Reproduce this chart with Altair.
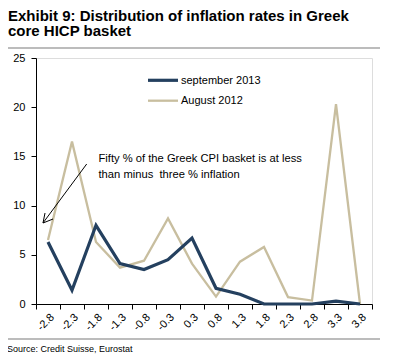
import altair as alt
import pandas as pd

categories = ["-2.8", "-2.3", "-1.8", "-1.3", "-0.8", "-0.3", "0.3", "0.8",
              "1.3", "1.8", "2.3", "2.8", "3.3", "3.8"]
sep_2013 = [6.3, 1.4, 8.0, 4.1, 3.5, 4.5, 6.7, 1.6, 1.0, 0.0, 0.0, 0.0, 0.3, 0.0]
aug_2012 = [6.5, 16.5, 6.3, 3.7, 4.4, 8.7, 4.1, 0.75, 4.3, 5.8, 0.7, 0.35, 20.3, 0.0]
series_names = ["september 2013", "August 2012"]
series_colors = ["#24405F", "#C8BE9F"]
y_ticks = [0, 5, 10, 15, 20, 25]

title_lines = ["Exhibit 9: Distribution of inflation rates in Greek", "core HICP basket"]
note_lines = ["Fifty % of the Greek CPI basket is at less", "than minus\u00a0 three % inflation"]
source_text = "Source: Credit Suisse, Eurostat"

FONT = "Liberation Sans"
W, H = 336, 246

rows = []
for c, a, b in zip(categories, sep_2013, aug_2012):
    rows.append({"cat": c, "series": series_names[0], "value": a})
    rows.append({"cat": c, "series": series_names[1], "value": b})
df = pd.DataFrame(rows)

x_enc = alt.X("cat:N", sort=categories,
              scale=alt.Scale(type="band", paddingInner=0, paddingOuter=0),
              axis=alt.Axis(title=None, labelAngle=-45, tickBand="extent",
                            labelFont=FONT, labelFontSize=11, labelColor="black",
                            domainColor="black", tickColor="black", tickSize=5,
                            labelPadding=2, grid=False))
y_enc = alt.Y("value:Q", scale=alt.Scale(domain=[0, 25], nice=False),
              axis=alt.Axis(title=None, values=y_ticks, labelFont=FONT,
                            labelFontSize=11, labelColor="black",
                            domainColor="black", tickColor="black", tickSize=5,
                            labelPadding=6, grid=False))
color_scale = alt.Scale(domain=series_names, range=series_colors)

aug_line = alt.Chart(df).transform_filter(
    alt.datum.series == series_names[1]
).mark_line(strokeWidth=2.3).encode(
    x=x_enc, y=y_enc, color=alt.Color("series:N", scale=color_scale, legend=None))
sep_line = alt.Chart(df).transform_filter(
    alt.datum.series == series_names[0]
).mark_line(strokeWidth=3.2).encode(
    x=x_enc, y=y_enc, color=alt.Color("series:N", scale=color_scale, legend=None))

one = pd.DataFrame({"a": [0]})

def txt(s, x, y, size=11, bold=False, baseline="alphabetic"):
    return alt.Chart(one).mark_text(
        text=s, font=FONT, fontSize=size, fontWeight="bold" if bold else "normal",
        align="left", baseline=baseline, color="black"
    ).encode(x=alt.value(x), y=alt.value(y))

def seg(x1, y1, x2, y2, color="black", width=1.0):
    return alt.Chart(one).mark_rule(color=color, strokeWidth=width).encode(
        x=alt.value(x1), y=alt.value(y1), x2=alt.value(x2), y2=alt.value(y2))

layers = [aug_line, sep_line]
# title
layers.append(txt(title_lines[0], -28, -37.5, size=15, bold=True))
layers.append(txt(title_lines[1], -28, -22, size=15, bold=True))
layers.append(seg(-28, -10, 344, -10, color="#A6A6A6", width=1.5))
# legend
layers.append(seg(112, 22.3, 142, 22.3, color=series_colors[0], width=3.2))
layers.append(seg(112, 42.7, 142, 42.7, color=series_colors[1], width=2.3))
layers.append(txt(series_names[0], 145, 22.5, baseline="middle"))
layers.append(txt(series_names[1], 145, 43, baseline="middle"))
# annotation
layers.append(txt(note_lines[0], 62.5, 104, size=11.2))
layers.append(txt(note_lines[1], 62.5, 119.5, size=11.2))
layers.append(seg(50.7, 106, 7, 165, width=1))
layers.append(seg(7, 165, 17, 161, width=1))
layers.append(seg(7, 165, 9, 155, width=1))
# footer
layers.append(seg(-28, 281, 344, 281, color="#A6A6A6", width=1.5))
layers.append(txt(source_text, -29, 294, size=9))

chart = alt.layer(*layers).properties(
    width=W, height=H,
    autosize=alt.AutoSizeParams(type="none"),
    padding={"left": 28, "top": 50, "right": 13, "bottom": 50},
).configure_view(stroke=None).configure(background="white")

chart.save("out.html", embed_options={"renderer": "svg", "actions": False})
